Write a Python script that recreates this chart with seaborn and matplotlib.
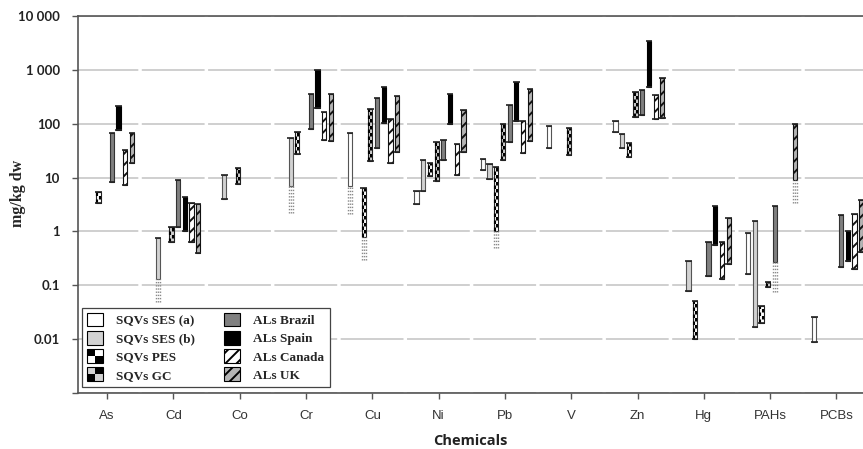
import numpy as np
import pandas as pd
import seaborn as sns
import matplotlib.pyplot as plt
import matplotlib.patches as mpatches
from matplotlib.legend_handler import HandlerBase

nan = np.nan

chemicals = ['As', 'Cd', 'Co', 'Cr', 'Cu', 'Ni', 'Pb', 'V', 'Zn', 'Hg', 'PAHs', 'PCBs']
series = ['SQVs SES (a)', 'SQVs SES (b)', 'SQVs PES', 'SQVs GC',
          'ALs Brazil', 'ALs Spain', 'ALs Canada', 'ALs UK']

# ranges in mg/kg dw (low / high per chemical)
ses_a_lo = [nan, nan, nan, nan, 7, 3.3, 14, 36, 71, nan, 0.16, 0.009]
ses_a_hi = [nan, nan, nan, nan, 68, 5.7, 22, 92, 114, nan, 0.92, 0.026]
ses_b_lo = [nan, 0.13, 4, 7, nan, 5.7, 9.6, nan, 36, 0.078, 0.017, nan]
ses_b_hi = [nan, 0.75, 11, 55, nan, 21, 18, nan, 65, 0.28, 1.55, nan]
pes_lo = [3.4, nan, nan, 27, 0.8, 10.5, 1.0, nan, 24.6, 0.01, 0.02, nan]
pes_hi = [5.3, nan, nan, 71, 6.5, 19, 16, nan, 43, 0.05, 0.041, nan]
gc_lo = [nan, 0.63, 7.5, nan, 20, 8.8, 21, 26, 135, nan, 0.092, nan]
gc_hi = [nan, 1.2, 15, nan, 190, 45, 100, 84, 390, nan, 0.115, nan]
brazil_lo = [8.2, 1.2, nan, 80, 35, 21, 45, nan, 147, 0.15, 0.27, 0.22]
brazil_hi = [66, 9, nan, 360, 300, 50, 226, nan, 425, 0.65, 3.0, 2.0]
spain_lo = [78, 1.0, nan, 200, 105, 100, 114, nan, 485, 0.57, nan, 0.28]
spain_hi = [210, 4.4, nan, 1000, 490, 360, 600, nan, 3450, 3.0, nan, 1.0]
canada_lo = [7.2, 0.65, nan, 50, 19, 11.4, 29, nan, 124, 0.13, nan, 0.2]
canada_hi = [32, 3.4, nan, 166, 124, 42, 114, nan, 345, 0.65, nan, 2.15]
uk_lo = [19, 0.39, nan, 47, 30, 30, 47, nan, 129, 0.25, 9, 0.41]
uk_hi = [67, 3.3, nan, 360, 330, 180, 445, nan, 710, 1.8, 100, 3.9]

# dotted lower extensions of some ranges
ext_series = ['SQVs SES (b)', 'SQVs SES (b)', 'SQVs SES (a)', 'SQVs PES',
              'SQVs PES', 'ALs Brazil', 'ALs UK']
ext_chem = ['Cd', 'Cr', 'Cu', 'Cu', 'Pb', 'PAHs', 'PAHs']
ext_low = [0.049, 2.2, 2.1, 0.3, 0.5, 0.074, 3.4]

yticks = [0.001, 0.01, 0.1, 1, 10, 100, 1000, 10000]
ytick_labels = ['', '0.01', '0.1', '1', '10', '100', '1 000', '10 000']

lows = [ses_a_lo, ses_b_lo, pes_lo, gc_lo, brazil_lo, spain_lo, canada_lo, uk_lo]
highs = [ses_a_hi, ses_b_hi, pes_hi, gc_hi, brazil_hi, spain_hi, canada_hi, uk_hi]
rows = []
for s, lo, hi in zip(series, lows, highs):
    for c, l, h in zip(chemicals, lo, hi):
        rows.append({'series': s, 'chemical': c, 'low': l, 'high': h})
df = pd.DataFrame(rows).dropna().reset_index(drop=True)
ext = pd.DataFrame({'series': ext_series, 'chemical': ext_chem, 'ext': ext_low})
df = df.merge(ext, on=['series', 'chemical'], how='left')

styles = {
    'SQVs SES (a)': dict(fc='white', ec='#555555'),
    'SQVs SES (b)': dict(fc='#d2d2d2', ec='#555555'),
    'SQVs PES': dict(fc='white', ec='#222222', checker=True),
    'SQVs GC': dict(fc='#d2d2d2', ec='#222222', checker=True),
    'ALs Brazil': dict(fc='#808080', ec='#333333'),
    'ALs Spain': dict(fc='black', ec='black'),
    'ALs Canada': dict(fc='white', ec='#111111', hatch='///'),
    'ALs UK': dict(fc='#b4b4b4', ec='#111111', hatch='///'),
}

sns.set_theme(style='white')
plt.rcParams['font.family'] = ['Liberation Sans', 'DejaVu Sans']
plt.rcParams['hatch.linewidth'] = 1.4

fig = plt.figure(figsize=(8.63, 4.49), dpi=100)
ax = fig.add_axes([78 / 863, 56 / 449, 802 / 863, 377 / 449])
ax.set_yscale('log')
ax.set_ylim(0.001, 10000)
ax.set_xlim(-0.44, -0.44 + 802 / 66.3)

bar_w = 0.064
cap_w = 0.097
slot = 0.101
half_pt = bar_w / 2 * 66.3 * 0.72
sq = 3.5 * 0.72 / half_pt

for _, r in df.iterrows():
    st = styles[r['series']]
    x = chemicals.index(r['chemical']) + (series.index(r['series']) - 3.3) * slot
    ax.bar(x, r['high'] - r['low'], bottom=r['low'], width=bar_w, color=st['fc'],
           edgecolor=st['ec'], linewidth=0.8, hatch=st.get('hatch'), zorder=3)
    if st.get('checker'):
        for k, dx in enumerate([-bar_w / 4, bar_w / 4]):
            ax.plot([x + dx, x + dx], [r['low'], r['high']], color='black', lw=half_pt,
                    ls=(k * sq, (sq, sq)), zorder=4)
    caps = [r['high']]
    if np.isnan(r['ext']):
        caps.append(r['low'])
    else:
        for dx in (-bar_w / 2, 0, bar_w / 2):
            ax.plot([x + dx, x + dx], [r['ext'], r['low']], color='#8a8a8a', lw=1.0,
                    ls=(0, (1, 1.3)), zorder=3)
    ax.hlines(caps, x - cap_w / 2, x + cap_w / 2, color='#222222', lw=1.2, zorder=5)

# axes styling
ax.set_yticks(yticks)
ax.set_yticklabels(ytick_labels)
ax.minorticks_off()
ax.set_xticks(range(len(chemicals)))
ax.set_xticklabels(chemicals)
ax.tick_params(axis='y', which='major', direction='out', length=4, width=1, color='#555555',
               pad=9, left=True)
ax.tick_params(axis='x', which='major', direction='out', length=4, width=1, color='#555555',
               pad=8, bottom=True, labelsize=9.5, labelcolor='#333333')
for lab in ax.get_yticklabels():
    lab.set_family(['Lato', 'DejaVu Sans'])
    lab.set_weight('bold')
    lab.set_fontsize(9.5)
    lab.set_color('#222222')
for side in ['top', 'bottom', 'left']:
    ax.spines[side].set_color('#555555')
    ax.spines[side].set_linewidth(1.2)
ax.spines['right'].set_visible(False)

ax.grid(axis='y', color='#cbcbcb', lw=1.3, zorder=0)
ax.grid(axis='x', visible=False)
for gl in ax.yaxis.get_gridlines():
    on = 62.8 * 0.72 / 1.3
    off = 3.5 * 0.72 / 1.3
    gl.set_linestyle((2.5 * 0.72 / 1.3, (on, off)))
ax.set_axisbelow(True)

fig.text(18 / 863, 1 - 193 / 449, 'mg/kg dw', rotation=90, ha='center', va='center',
         family=['Liberation Serif', 'DejaVu Serif'], weight='bold', fontsize=11.5)
fig.text(470 / 863, 1 - 441 / 449, 'Chemicals', ha='center', va='center',
         family=['Open Sans', 'DejaVu Sans'], weight='bold', fontsize=10.5, color='#222222')


class CheckerHandler(HandlerBase):
    def __init__(self, c_even, c_odd):
        super().__init__()
        self.c_even = c_even
        self.c_odd = c_odd

    def create_artists(self, legend, orig_handle, xdescent, ydescent, width, height,
                       fontsize, trans):
        arts = []
        w2, h2 = width / 2, height / 2
        for i in range(2):
            for j in range(2):
                c = self.c_even if (i + j) % 2 == 0 else self.c_odd
                arts.append(mpatches.Rectangle((-xdescent + i * w2, -ydescent + j * h2), w2, h2,
                                               facecolor=c, edgecolor='none', transform=trans))
        arts.append(mpatches.Rectangle((-xdescent, -ydescent), width, height, fill=False,
                                       edgecolor='black', lw=0.8, transform=trans))
        return arts


handles = []
handler_map = {}
for s in series:
    st = styles[s]
    h = mpatches.Patch(facecolor=st['fc'], edgecolor='black', hatch=st.get('hatch'),
                       linewidth=0.8, label=s)
    handles.append(h)
handler_map[handles[2]] = CheckerHandler('white', 'black')
handler_map[handles[3]] = CheckerHandler('black', '#d2d2d2')

leg = ax.legend(handles=handles, handler_map=handler_map, ncol=2, loc='lower left',
                bbox_to_anchor=(0.005, 0.016), borderaxespad=0, frameon=True, fancybox=False,
                edgecolor='#444444', framealpha=1, handlelength=1.2, handleheight=1.2,
                labelspacing=0.3, columnspacing=2.2, handletextpad=1.0, borderpad=0.4,
                prop={'family': ['Liberation Serif', 'DejaVu Serif'], 'weight': 'bold',
                      'size': 9.5})
leg.get_frame().set_linewidth(0.9)
leg.set_zorder(6)

fig.savefig('out.png', dpi=100)
